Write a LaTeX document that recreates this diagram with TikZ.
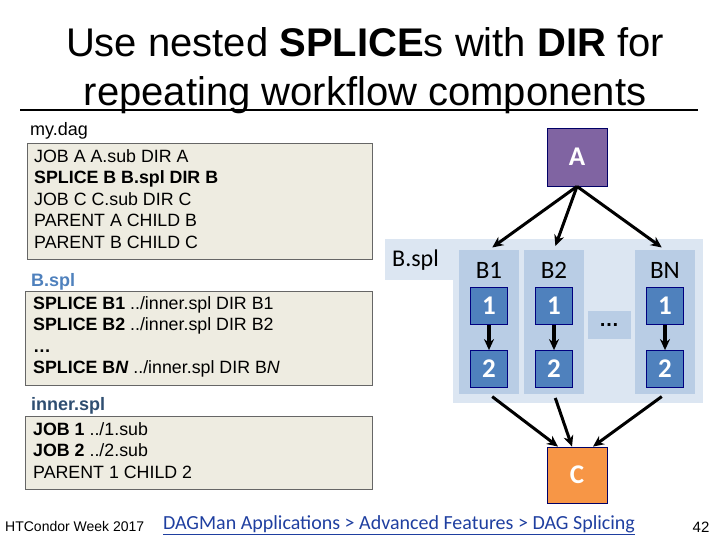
\documentclass[tikz,border=0pt]{standalone}
\usepackage{fontspec}
\setmainfont{Liberation Sans}
\newfontfamily\calibri{Carlito}
\usepackage{xcolor}
\usetikzlibrary{arrows.meta}
\definecolor{jobpurple}{HTML}{8064A2}
\definecolor{joborange}{HTML}{F79646}
\definecolor{jobblue}{HTML}{4F81BD}
\definecolor{splback}{HTML}{DCE6F2}
\definecolor{splcol}{HTML}{B9CDE5}
\definecolor{codeback}{HTML}{EEECE1}
\definecolor{linkblue}{HTML}{1F3FA0}
\begin{document}
\begin{tikzpicture}[x=1pt, y=-1pt]
        \tikzstyle{job}=[draw=black!60!blue, line width=0.8pt, minimum width=60pt, minimum height=58pt, text=white, font=\calibri\bfseries\fontsize{27}{27}\selectfont]
        \tikzstyle{inner}=[fill=jobblue, draw=black!50!blue, line width=0.8pt, minimum width=37pt, minimum height=37pt, text=white, font=\calibri\bfseries\fontsize{27}{27}\selectfont]
        \tikzstyle{column}=[fill=splcol, minimum width=60pt, minimum height=144pt]
        \tikzstyle{code}=[fill=codeback, draw=black!60, anchor=north west, align=left, inner sep=0pt, font=\fontsize{17.8}{21.5}\selectfont]
        \tikzstyle{file}=[anchor=west, inner sep=0pt, font=\fontsize{18}{18}\selectfont]
        \tikzstyle{edge}=[-{Stealth[length=11pt, width=10pt]}, line width=3pt]
        \useasboundingbox (0,0) rectangle (720,540);

        % Title
        \draw node at (365,42) [font=\fontsize{40}{40}\selectfont] {Use nested \textbf{SPLICE}s with \textbf{DIR} for};
        \draw node at (365,95) [font=\fontsize{40}{40}\selectfont] {repeating workflow components};
        \draw [line width=1.5pt] (20,110) -- (698,110);

        % Files
        \draw node at (30,131) [file] {my.dag};
        \draw node at (27,143) [code, minimum width=345pt, minimum height=116pt] (mydag) {};
        \draw node at (34,149) [code, draw=none, fill=none] {JOB A A.sub DIR A\\ \textbf{SPLICE B B.spl DIR B}\\ JOB C C.sub DIR C\\ PARENT A CHILD B\\ PARENT B CHILD C};

        \draw node at (31,282) [file, text=jobblue, font=\bfseries\fontsize{18}{18}\selectfont] {B.spl};
        \draw node at (25,291) [code, minimum width=347pt, minimum height=94pt] (bspl) {};
        \draw node at (33,296) [code, draw=none, fill=none] {\textbf{SPLICE B1} ../inner.spl DIR B1\\ \textbf{SPLICE B2} ../inner.spl DIR B2\\ \textbf{\dots}\\ \textbf{SPLICE B\textit{N}} ../inner.spl DIR B\textit{N}};

        \draw node at (31,406) [file, text=jobblue!60!black, font=\bfseries\fontsize{18}{18}\selectfont] {inner.spl};
        \draw node at (25,416) [code, minimum width=347pt, minimum height=73pt] (innerspl) {};
        \draw node at (33,422) [code, draw=none, fill=none] {\textbf{JOB 1} ../1.sub\\ \textbf{JOB 2} ../2.sub\\ PARENT 1 CHILD 2};

        % Splice area
        \fill [splback] (385,239) rectangle (703,280);
        \fill [splback] (453,239) rectangle (703,403);
        \draw node at (392,260) [anchor=west, inner sep=0pt, font=\calibri\fontsize{24}{24}\selectfont] {B.spl};
        \draw node at (609,325) [fill=splcol, minimum width=43pt, minimum height=28pt, font=\bfseries\fontsize{20}{20}\selectfont] (dots) {\dots};

        % Jobs
        \draw node at (577,157) [job, fill=jobpurple] (A) {A};
        \draw node at (577,475) [job, fill=joborange, minimum height=56pt] (C) {C};

        \foreach \name/\x in {B1/489, B2/554, BN/665} {
            \draw node at (\x,322) [column] (\name) {};
            \draw node at (\x,270) [font=\calibri\fontsize{25}{25}\selectfont] (\name_label) {\name};
            \draw node at (\x,306) [inner] (\name_1) {1};
            \draw node at (\x,369) [inner] (\name_2) {2};
            \draw [edge, line width=3.5pt] (\name_1) to (\name_2);
        }

        % Edges
        \foreach \name in {B1,B2,BN}
        \draw [edge, shorten >=4pt] (A.south) to (\name.north);
        \draw [edge, shorten <=4pt] (B1.south) to ([xshift=-19pt]C.north);
        \draw [edge, shorten <=4pt] (B2.south) to ([xshift=-5pt]C.north);
        \draw [edge, shorten <=4pt] (BN.south) to ([xshift=16pt]C.north);

        % Footer
        \draw node at (5,526) [anchor=west, inner sep=0pt, font=\fontsize{14}{14}\selectfont] {HTCondor Week 2017};
        \draw node at (399,525) [text=linkblue, font=\calibri\fontsize{20}{20}\selectfont] (link) {\underline{DAGMan Applications > Advanced Features > DAG Splicing}};
        \draw node at (701,527) [font=\fontsize{15}{15}\selectfont] {42};
\end{tikzpicture}
\end{document}
